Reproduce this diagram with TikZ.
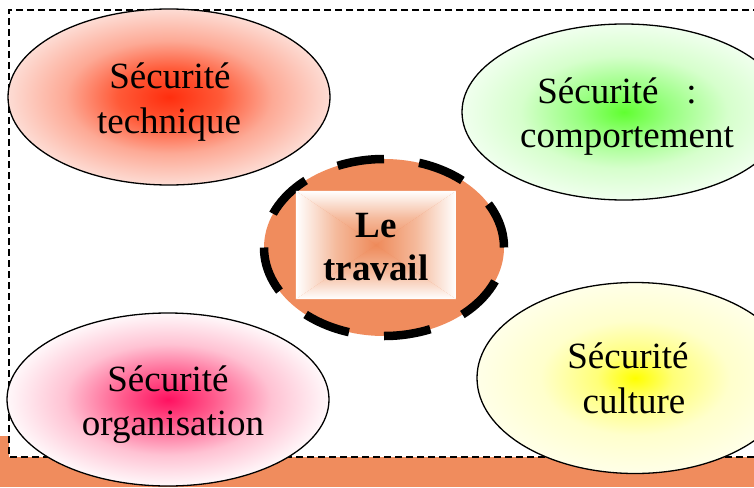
\documentclass[tikz,border=0pt]{standalone}
\usepackage{fontspec}
\setmainfont{Liberation Serif}
\usetikzlibrary{shapes.geometric}
\definecolor{bandc}{HTML}{F08C5D}
\definecolor{boxc}{HTML}{EE8A5A}
\definecolor{boxm}{HTML}{F5BA9C}
\definecolor{redc}{HTML}{FF2E0E}
\definecolor{redm}{HTML}{FF5A38}
\definecolor{redn}{HTML}{FDA995}
\definecolor{rede}{HTML}{FDDCD4}
\definecolor{grc}{HTML}{60FF30}
\definecolor{grm}{HTML}{98FF80}
\definecolor{grn}{HTML}{D6FFCC}
\definecolor{gre}{HTML}{F0FFEE}
\definecolor{yec}{HTML}{FFFF00}
\definecolor{yem}{HTML}{FFFF78}
\definecolor{yen}{HTML}{FFFFCC}
\definecolor{yee}{HTML}{FFFFE8}
\definecolor{pkc}{HTML}{FF1060}
\definecolor{pkm}{HTML}{FF5A8C}
\definecolor{pkn}{HTML}{FFC2D3}
\definecolor{pke}{HTML}{FFF8FA}
\pgfdeclareradialshading{shred}{\pgfpoint{0bp}{0bp}}{color(0bp)=(redc); color(8bp)=(redm); color(16bp)=(redn); color(25bp)=(rede); color(50bp)=(rede)}
\pgfdeclareradialshading{shgreen}{\pgfpoint{0bp}{0bp}}{color(0bp)=(grc); color(7bp)=(grm); color(16bp)=(grn); color(25bp)=(gre); color(50bp)=(gre)}
\pgfdeclareradialshading{shyellow}{\pgfpoint{0bp}{0bp}}{color(0bp)=(yec); color(6bp)=(yem); color(15bp)=(yen); color(25bp)=(yee); color(50bp)=(yee)}
\pgfdeclareradialshading{shpink}{\pgfpoint{0bp}{0bp}}{color(0bp)=(pkc); color(7bp)=(pkm); color(16bp)=(pkn); color(25bp)=(pke); color(50bp)=(pke)}
\tikzset{
  oval/.style={ellipse, draw=black, line width=1.3pt, shade, inner sep=0pt},
  lbl/.style={font=\fontsize{37}{44}\selectfont, inner sep=0pt, anchor=base},
  blbl/.style={font=\fontsize{37}{44}\selectfont\bfseries, inner sep=0pt, anchor=base}
}
\begin{document}
\begin{tikzpicture}[x=1pt,y=-1pt]
\useasboundingbox (0,0) rectangle (754,487);
% orange band and dashed frame
\fill[bandc] (0,436) rectangle (754,487);
\draw[fill=white, line width=1.3pt, dash pattern=on 7pt off 4pt] (760,10) -- (9,10) -- (9,457) -- (760,457);
\fill[white] (10,11) rectangle (754,456);
% ellipses
\node[oval, shading=shred, minimum width=322pt, minimum height=176pt] (e1) at (169,97) {};
\node[oval, shading=shgreen, minimum width=324pt, minimum height=176pt] (e2) at (624,112) {};
\node[oval, shading=shyellow, minimum width=316pt, minimum height=191pt] (e3) at (635,378) {};
\node[oval, shading=shpink, minimum width=322pt, minimum height=173pt] (e4) at (168,399.5) {};
% central
\node[ellipse, fill=bandc, draw=black, line width=8.5pt, dash pattern=on 47pt off 35.35pt, minimum width=240pt, minimum height=177pt, inner sep=0pt] (ring) at (384,247.5) {};
\node[minimum width=160pt, minimum height=108pt, inner sep=0pt] (box) at (376,245) {};
\shade[top color=white, bottom color=boxc, middle color=boxm] (box.north west) -- (box.north east) -- (box.center) -- cycle;
\shade[top color=boxc, bottom color=white, middle color=boxm] (box.south west) -- (box.south east) -- (box.center) -- cycle;
\shade[left color=white, right color=boxc, middle color=boxm] (box.north west) -- (box.south west) -- (box.center) -- cycle;
\shade[left color=boxc, right color=white, middle color=boxm] (box.north east) -- (box.south east) -- (box.center) -- cycle;
% labels
\node[lbl] (t1a) at (170,88) {Sécurité};
\node[lbl] (t1b) at (169,133) {technique};
\node[lbl] (t2a) at (617,103) {Sécurité\hspace{0.75em}:};
\node[lbl] (t2b) at (627,147) {comportement};
\node[lbl] (t3a) at (628,368) {Sécurité};
\node[lbl] (t3b) at (634,413) {culture};
\node[lbl] (t4a) at (168,391) {Sécurité};
\node[lbl] (t4b) at (173,435) {organisation};
\node[blbl] (l1) at (376,237) {Le};
\node[blbl] (l2) at (376,280) {travail};
\end{tikzpicture}
\end{document}
